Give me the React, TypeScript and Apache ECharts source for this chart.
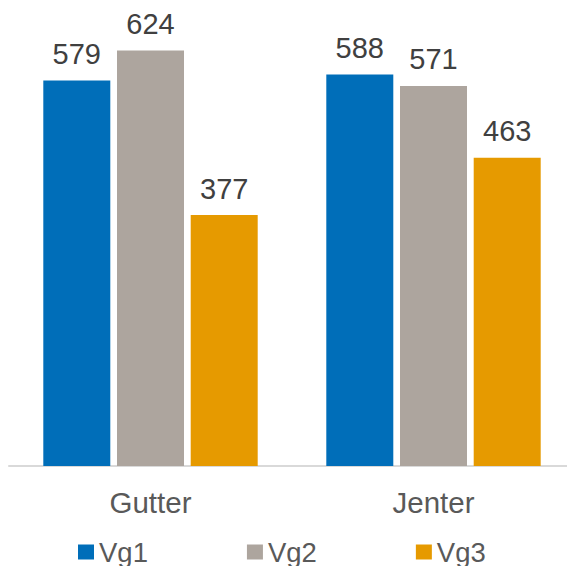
import React, { useEffect, useRef } from "react";
import * as echarts from "echarts";

const categories = ["Gutter", "Jenter"];
const seriesNames = ["Vg1", "Vg2", "Vg3"];
const vg1 = [579, 588];
const vg2 = [624, 571];
const vg3 = [377, 463];
const colors = ["#006EB9", "#ADA59E", "#E69A00"];

const FONT = "Liberation Sans, Arial, sans-serif";

export default function App() {
  const ref = useRef<HTMLDivElement>(null);
  useEffect(() => {
    if (!ref.current) return;
    const chart = echarts.init(ref.current, null, { renderer: "svg" });
    const data = [vg1, vg2, vg3];
    chart.setOption({
      animation: false,
      textStyle: { fontFamily: FONT },
      grid: { left: 9, right: 0, top: 0, bottom: 100, containLabel: false },
      legend: {
        data: seriesNames,
        bottom: 0,
        left: 78,
        padding: 0,
        itemWidth: 16,
        itemHeight: 15,
        itemGap: 99,
        icon: "rect",
        textStyle: { fontSize: 27.5, color: "#595959", fontFamily: FONT },
      },
      xAxis: {
        type: "category",
        data: categories,
        axisTick: { show: false },
        axisLine: { lineStyle: { color: "#D9D9D9", width: 2 } },
        axisLabel: { fontSize: 29.5, color: "#595959", margin: 21, fontFamily: FONT },
      },
      yAxis: {
        type: "value",
        min: 0,
        max: 700,
        show: false,
        splitLine: { show: false },
      },
      series: seriesNames.map((name, i) => ({
        name,
        type: "bar",
        data: data[i],
        barWidth: 67,
        barGap: "10%",
        itemStyle: { color: colors[i] },
        label: {
          show: true,
          position: "top",
          distance: 12,
          fontSize: 29,
          color: "#404040",
          fontFamily: FONT,
        },
      })),
    });
    return () => chart.dispose();
  }, []);
  return (
    <div style={{ position: "absolute", left: 0, top: 0, width: 567, height: 566, overflow: "hidden", background: "#fff" }}>
      <div ref={ref} style={{ width: 575, height: 566 }} />
    </div>
  );
}
